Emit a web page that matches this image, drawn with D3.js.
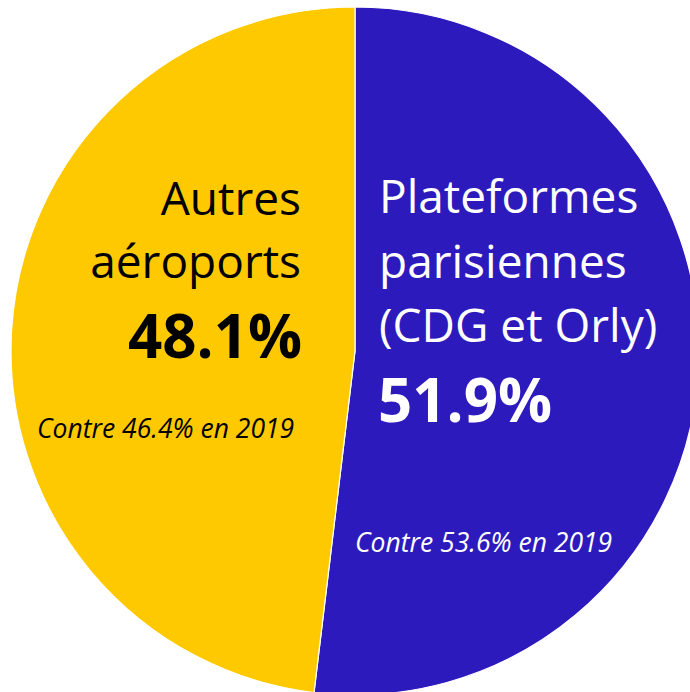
<!DOCTYPE html>
<html lang="en">
  <head>
    <meta charset="utf-8">
    <style>
      body { margin: 0; background: #fff; }
      text { font-family: "Open Sans", Lato, sans-serif; }
      .slices path { stroke: #fff; stroke-width: 1.2; }
    </style>
  </head>
  <body>
    <svg id="container" height="692" width="690">
      <g id="body"></g>
    </svg>
  </body>
  <script src="https://d3js.org/d3.v7.min.js"></script>
  <script>
// data
let categories = ["Plateformes parisiennes (CDG et Orly)", "Autres aéroports"]
let shares = [51.9, 48.1]
let shares2019 = [53.6, 46.4]
let colors = ["#2d1abd", "#ffc900"]

let cx = 355, cy = 351, radius = 344

let body = d3.select("#body").attr("transform", `translate(${cx},${cy})`)

let pie = d3.pie().sort(null).value(d => d)
let arc = d3.arc().innerRadius(0).outerRadius(radius)

body.append("g")
    .attr("class", "slices")
    .selectAll("path")
    .data(pie(shares))
    .enter()
    .append("path")
        .attr("d", arc)
        .attr("fill", (d, i) => colors[i])

let fmt = v => v.toFixed(1) + "%"
let svg = d3.select("#container")

// right slice labels (white)
let right = svg.append("g").attr("fill", "#fff")
let rightLines = ["Plateformes", "parisiennes", "(CDG et Orly)"]
right.selectAll("text.name")
    .data(rightLines)
    .enter()
    .append("text")
        .attr("class", "name")
        .attr("x", 379)
        .attr("y", (d, i) => 213 + i * 64.5)
        .attr("font-size", 46)
        .text(d => d)
right.append("text")
    .attr("x", 378)
    .attr("y", 422)
    .attr("font-size", 60)
    .attr("font-weight", "bold")
    .text(fmt(shares[0]))
right.append("text")
    .attr("x", 355)
    .attr("y", 552)
    .attr("font-size", 26.5)
    .attr("font-style", "italic")
    .text("Contre " + fmt(shares2019[0]) + " en 2019")

// left slice labels (black)
let left = svg.append("g").attr("fill", "#000")
let leftLines = ["Autres", "aéroports"]
left.selectAll("text.name")
    .data(leftLines)
    .enter()
    .append("text")
        .attr("class", "name")
        .attr("x", 301)
        .attr("y", (d, i) => 215 + i * 63)
        .attr("text-anchor", "end")
        .attr("font-size", 46)
        .text(d => d)
left.append("text")
    .attr("x", 302)
    .attr("y", 358)
    .attr("text-anchor", "end")
    .attr("font-size", 60)
    .attr("font-weight", "bold")
    .text(fmt(shares[1]))
left.append("text")
    .attr("x", 37)
    .attr("y", 438)
    .attr("font-size", 26.5)
    .attr("font-style", "italic")
    .text("Contre " + fmt(shares2019[1]) + " en 2019")
  </script>
</html>
